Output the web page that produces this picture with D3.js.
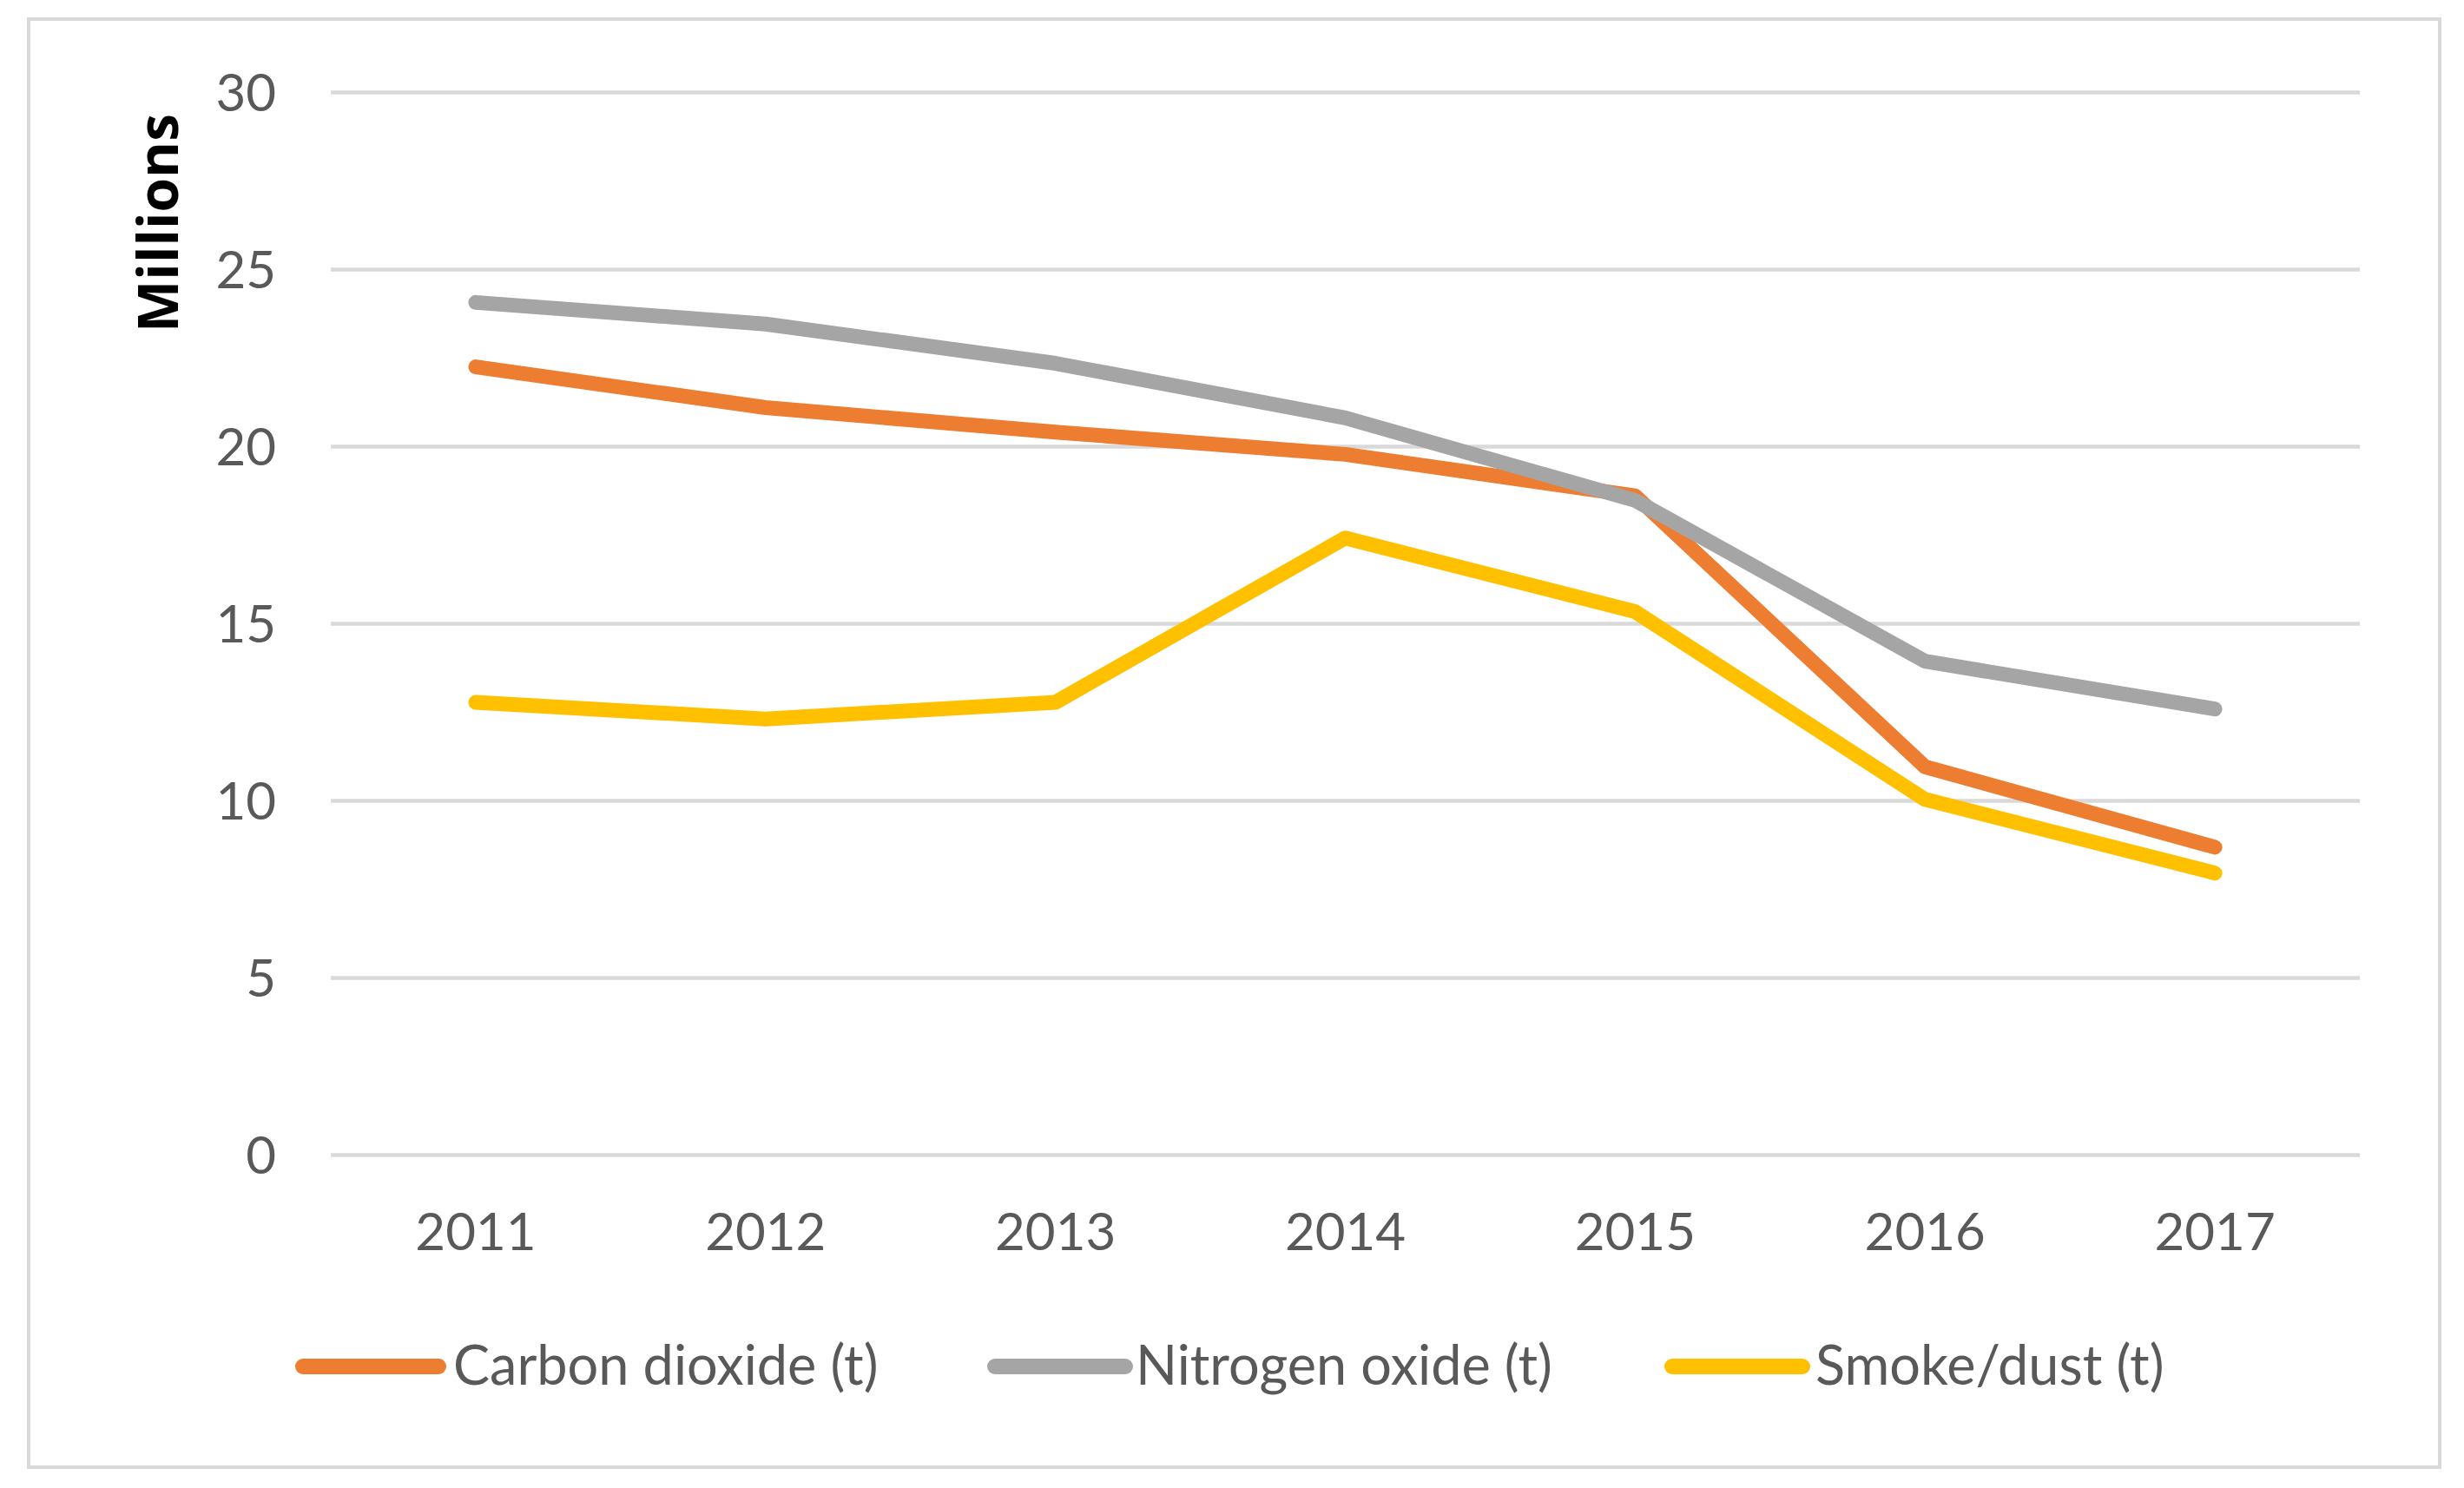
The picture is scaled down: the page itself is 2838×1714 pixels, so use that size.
<!DOCTYPE html>
<html>
<head>
<meta charset="utf-8">
<script src="https://cdn.jsdelivr.net/npm/d3@7"></script>
<style>
  html, body { margin: 0; padding: 0; background: #ffffff; }
  svg { display: block; }
</style>
</head>
<body>
<div id="chart"></div>
<script>
// ---- data ----
const years = ["2011", "2012", "2013", "2014", "2015", "2016", "2017"];
const carbonDioxide = [22.24, 21.09, 20.4, 19.77, 18.6, 10.95, 8.68];
const nitrogenOxide = [24.06, 23.45, 22.34, 20.8, 18.47, 13.93, 12.58];
const smokeDust = [12.77, 12.3, 12.77, 17.41, 15.33, 10.03, 7.95];
const seriesNames = ["Carbon dioxide (t)", "Nitrogen oxide (t)", "Smoke/dust (t)"];
const seriesColors = ["#ED7D31", "#A5A5A5", "#FFC000"];
const yTicks = [0, 5, 10, 15, 20, 25, 30];
const yTitle = "Millions";

// ---- layout ----
const W = 2838, H = 1714;
const plot = { left: 381, right: 2718, top: 106, bottom: 1330 };
const textColor = "#595959";
const gridColor = "#D9D9D9";
const labelFont = "Lato, 'Open Sans', 'Liberation Sans', sans-serif";

const svg = d3.select("#chart").append("svg")
  .attr("width", W).attr("height", H)
  .attr("viewBox", `0 0 ${W} ${H}`);

// outer frame
svg.append("rect")
  .attr("x", 33).attr("y", 22)
  .attr("width", 2810 - 33).attr("height", 1690 - 22)
  .attr("fill", "#ffffff")
  .attr("stroke", gridColor).attr("stroke-width", 4);

const x = d3.scaleBand().domain(years).range([plot.left, plot.right]).padding(0);
const y = d3.scaleLinear().domain([0, 30]).range([plot.bottom, plot.top]);

// gridlines + y labels via axis
const yAxis = d3.axisLeft(y).tickValues(yTicks).tickSize(-(plot.right - plot.left)).tickPadding(63);
const gy = svg.append("g").attr("transform", `translate(${plot.left},0)`).call(yAxis);
gy.select(".domain").remove();
gy.selectAll(".tick line").attr("stroke", gridColor).attr("stroke-width", 4.5);
gy.selectAll(".tick text")
  .attr("fill", textColor)
  .style("font-family", labelFont)
  .style("font-size", "60px")
  .attr("dy", "0.36em");

// x labels via axis
const xAxis = d3.axisBottom(x).tickSize(0).tickPadding(0);
const gx = svg.append("g").attr("transform", `translate(0,${plot.bottom})`).call(xAxis);
gx.select(".domain").remove();
gx.selectAll(".tick text")
  .attr("fill", textColor)
  .style("font-family", labelFont)
  .style("font-size", "60px")
  .attr("y", 110)
  .attr("dy", 0);

// y title
svg.append("text")
  .attr("transform", "translate(205,257) rotate(-90)")
  .attr("text-anchor", "middle")
  .style("font-family", "'Open Sans', 'Liberation Sans', sans-serif")
  .style("font-weight", 700)
  .style("font-size", "64px")
  .attr("fill", "#000000")
  .text(yTitle);

// lines
const allSeries = [carbonDioxide, nitrogenOxide, smokeDust];
const line = d3.line()
  .x((d, i) => x(years[i]) + x.bandwidth() / 2)
  .y(d => y(d));

svg.append("g").selectAll("path")
  .data(allSeries)
  .join("path")
  .attr("d", d => line(d))
  .attr("fill", "none")
  .attr("stroke", (d, i) => seriesColors[i])
  .attr("stroke-width", 17)
  .attr("stroke-linecap", "round")
  .attr("stroke-linejoin", "round");

// legend
const legendY = 1574;
const legendItems = [
  { lx1: 349, lx2: 505, tx: 522 },
  { lx1: 1146, lx2: 1296, tx: 1308 },
  { lx1: 1926, lx2: 2076, tx: 2091 }
];
const lg = svg.append("g");
legendItems.forEach((it, i) => {
  lg.append("line")
    .attr("x1", it.lx1).attr("x2", it.lx2)
    .attr("y1", legendY).attr("y2", legendY)
    .attr("stroke", seriesColors[i])
    .attr("stroke-width", 18)
    .attr("stroke-linecap", "round");
  lg.append("text")
    .attr("x", it.tx).attr("y", legendY + 21)
    .attr("fill", textColor)
    .style("font-family", labelFont)
    .style("font-size", "63px")
    .text(seriesNames[i]);
});
</script>
</body>
</html>
